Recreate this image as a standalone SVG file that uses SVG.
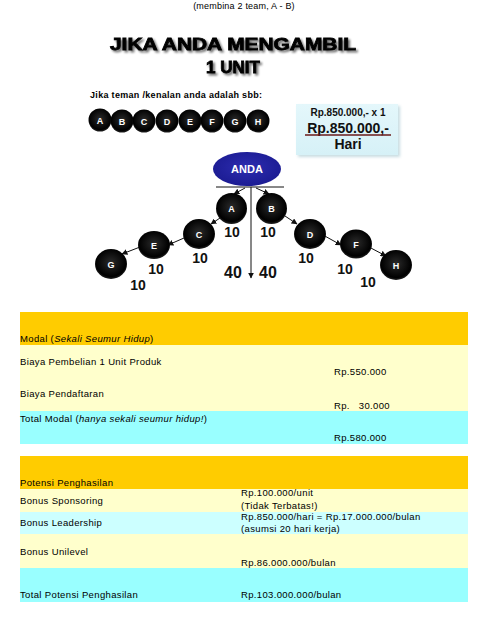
<svg xmlns="http://www.w3.org/2000/svg" width="489" height="618" viewBox="0 0 489 618">
<defs>
<style>
.t{font-family:"Liberation Sans",Arial,sans-serif;font-size:9.5px;fill:#000;letter-spacing:0.35px}
.it{font-style:italic}
.title{font-family:"Liberation Sans",Arial,sans-serif;font-weight:bold;font-size:17px;fill:#000;stroke:#000;stroke-width:0.8px;text-anchor:middle}
.lbl{font-family:"Liberation Sans",Arial,sans-serif;font-weight:bold;fill:#fff;text-anchor:middle}
.num{font-family:"Liberation Sans",Arial,sans-serif;font-weight:bold;font-size:14px;fill:#111;text-anchor:middle}
.big{font-family:"Liberation Sans",Arial,sans-serif;font-weight:bold;fill:#111;text-anchor:middle}
.con{stroke:#111;stroke-width:1;fill:none}
</style>
<radialGradient id="ball" cx="0.5" cy="0.45" r="0.55">
<stop offset="0" stop-color="#2a2a2a"/>
<stop offset="0.85" stop-color="#000"/>
<stop offset="1" stop-color="#222"/>
</radialGradient>
<radialGradient id="blue" cx="0.5" cy="0.45" r="0.6">
<stop offset="0" stop-color="#2d2db0"/>
<stop offset="1" stop-color="#1a1a90"/>
</radialGradient>
<linearGradient id="boxg" x1="0" y1="0" x2="0" y2="1">
<stop offset="0" stop-color="#e4f7fb"/>
<stop offset="1" stop-color="#d6f1f7"/>
</linearGradient>
<filter id="shadow" x="-10%" y="-40%" width="125%" height="190%">
<feGaussianBlur in="SourceAlpha" stdDeviation="1.2" result="b"/>
<feOffset in="b" dx="2" dy="2" result="o"/>
<feComponentTransfer in="o" result="s"><feFuncA type="linear" slope="0.55"/></feComponentTransfer>
<feMerge><feMergeNode in="s"/><feMergeNode in="SourceGraphic"/></feMerge>
</filter>
<filter id="soft" x="-10%" y="-10%" width="130%" height="130%">
<feGaussianBlur stdDeviation="1.5"/>
</filter>
<marker id="ah" viewBox="0 0 10 10" refX="9" refY="5" markerWidth="6" markerHeight="6" orient="auto" markerUnits="userSpaceOnUse">
<path d="M0,0 L10,5 L0,10 z" fill="#111"/>
</marker>
</defs>
<rect width="489" height="618" fill="#fff"/>

<text class="t" x="244" y="9" text-anchor="middle" style="font-size:9px;letter-spacing:0.2px">(membina 2 team, A - B)</text>

<g id="title" filter="url(#shadow)">
<text class="title" x="233" y="50" textLength="246" lengthAdjust="spacingAndGlyphs">JIKA ANDA MENGAMBIL</text>
<text class="title" x="233" y="73">1 UNIT</text>
</g>

<text x="90" y="98" style="font-family:'Liberation Sans',Arial,sans-serif;font-weight:bold;font-size:9px" textLength="172">Jika teman /kenalan anda adalah sbb:</text>

<g id="legend">
<g id="leg-A"><circle cx="100" cy="120" r="11.5" fill="url(#ball)"/><text class="lbl" x="100" y="123.5" style="font-size:9px">A</text></g>
<g id="leg-B"><circle cx="122" cy="121" r="11.5" fill="url(#ball)"/><text class="lbl" x="122" y="124.5" style="font-size:9px">B</text></g>
<g id="leg-C"><circle cx="144" cy="121" r="11.5" fill="url(#ball)"/><text class="lbl" x="144" y="124.5" style="font-size:9px">C</text></g>
<g id="leg-D"><circle cx="167" cy="121" r="11.5" fill="url(#ball)"/><text class="lbl" x="167" y="124.5" style="font-size:9px">D</text></g>
<g id="leg-E"><circle cx="190" cy="121" r="11.5" fill="url(#ball)"/><text class="lbl" x="190" y="124.5" style="font-size:9px">E</text></g>
<g id="leg-F"><circle cx="212" cy="121" r="11.5" fill="url(#ball)"/><text class="lbl" x="212" y="124.5" style="font-size:9px">F</text></g>
<g id="leg-G"><circle cx="235" cy="121" r="11.5" fill="url(#ball)"/><text class="lbl" x="235" y="124.5" style="font-size:9px">G</text></g>
<g id="leg-H"><circle cx="258" cy="121" r="11.5" fill="url(#ball)"/><text class="lbl" x="258" y="124.5" style="font-size:9px">H</text></g>
</g>

<g id="pricebox">
<rect x="298" y="106" width="102" height="51" fill="#c8dde2" filter="url(#soft)"/>
<rect x="296" y="104" width="102" height="51" fill="url(#boxg)"/>
<text class="big" x="348" y="116" style="font-size:10px">Rp.850.000,- x 1</text>
<text class="big" x="348" y="133" style="font-size:14px">Rp.850.000,-</text>
<line x1="305" y1="135" x2="391" y2="135" stroke="#6a1a1a" stroke-width="1.5"/>
<text class="big" x="348" y="149" style="font-size:14px">Hari</text>
</g>

<g id="connectors">
<line class="con" x1="216" y1="187" x2="284" y2="187"/>
<line class="con" x1="251" y1="187" x2="251" y2="278" marker-end="url(#ah)"/>
<line class="con" x1="245" y1="188" x2="234" y2="194" marker-end="url(#ah)"/>
<line class="con" x1="256" y1="188" x2="269" y2="194" marker-end="url(#ah)"/>
<line class="con" x1="220" y1="218" x2="211" y2="224" marker-end="url(#ah)"/>
<line class="con" x1="184" y1="238" x2="168" y2="245" marker-end="url(#ah)"/>
<line class="con" x1="140" y1="247" x2="122" y2="254" marker-end="url(#ah)"/>
<line class="con" x1="285" y1="216" x2="297" y2="224" marker-end="url(#ah)"/>
<line class="con" x1="323" y1="235" x2="341" y2="245" marker-end="url(#ah)"/>
<line class="con" x1="369" y1="247" x2="386" y2="256" marker-end="url(#ah)"/>
</g>

<g id="node-ANDA"><ellipse cx="247" cy="169" rx="34" ry="17" fill="url(#blue)"/><text class="lbl" x="247" y="173" style="font-size:11px">ANDA</text></g>
<g id="node-A"><ellipse cx="231.5" cy="208.5" rx="15.5" ry="15.5" fill="url(#ball)"/><text class="lbl" x="231.5" y="212" style="font-size:9px">A</text></g>
<g id="node-B"><ellipse cx="271.5" cy="208.5" rx="15.5" ry="15.5" fill="url(#ball)"/><text class="lbl" x="271.5" y="212" style="font-size:9px">B</text></g>
<g id="node-C"><ellipse cx="199" cy="234" rx="16" ry="15" fill="url(#ball)"/><text class="lbl" x="199" y="237.5" style="font-size:9px">C</text></g>
<g id="node-D"><ellipse cx="310" cy="234" rx="16" ry="15" fill="url(#ball)"/><text class="lbl" x="310" y="237.5" style="font-size:9px">D</text></g>
<g id="node-E"><ellipse cx="154" cy="245" rx="16" ry="14" fill="url(#ball)"/><text class="lbl" x="154" y="248.5" style="font-size:9px">E</text></g>
<g id="node-F"><ellipse cx="356" cy="244" rx="16" ry="14.5" fill="url(#ball)"/><text class="lbl" x="356" y="247.5" style="font-size:9px">F</text></g>
<g id="node-G"><ellipse cx="111" cy="264" rx="16" ry="15" fill="url(#ball)"/><text class="lbl" x="111" y="267.5" style="font-size:9px">G</text></g>
<g id="node-H"><ellipse cx="396" cy="265" rx="16" ry="15" fill="url(#ball)"/><text class="lbl" x="396" y="268.5" style="font-size:9px">H</text></g>

<g id="counts">
<text class="num" x="232" y="237">10</text>
<text class="num" x="268" y="237">10</text>
<text class="num" x="200" y="263">10</text>
<text class="num" x="306" y="263">10</text>
<text class="num" x="156" y="274">10</text>
<text class="num" x="345" y="274">10</text>
<text class="num" x="138" y="290">10</text>
<text class="num" x="368" y="287">10</text>
<text class="num" x="233" y="278" style="font-size:16px">40</text>
<text class="num" x="268" y="278" style="font-size:16px">40</text>
</g>

<g id="table-modal">
<rect x="20" y="312" width="448" height="33" fill="#FFCC00"/>
<rect x="20" y="345" width="448" height="66" fill="#FFFFCC"/>
<rect x="20" y="411" width="448" height="33" fill="#99FFFF"/>
<text class="t" x="20" y="342">Modal (<tspan class="it">Sekali Seumur Hidup</tspan>)</text>
<text class="t" x="20" y="365">Biaya Pembelian 1 Unit Produk</text>
<text class="t" x="334" y="375">Rp.550.000</text>
<text class="t" x="20" y="397">Biaya Pendaftaran</text>
<text class="t" x="334" y="409" xml:space="preserve">Rp.   30.000</text>
<text class="t" x="20" y="422">Total Modal (<tspan class="it">hanya sekali seumur hidup!</tspan>)</text>
<text class="t" x="334" y="441">Rp.580.000</text>
</g>

<g id="table-potensi">
<rect x="20" y="456" width="448" height="33" fill="#FFCC00"/>
<rect x="20" y="489" width="448" height="23" fill="#FFFFCC"/>
<rect x="20" y="512" width="448" height="22" fill="#CCFFFF"/>
<rect x="20" y="534" width="448" height="34" fill="#FFFFCC"/>
<rect x="20" y="568" width="448" height="34" fill="#99FFFF"/>
<text class="t" x="20" y="486">Potensi Penghasilan</text>
<text class="t" x="20" y="504">Bonus Sponsoring</text>
<text class="t" x="241" y="496">Rp.100.000/unit</text>
<text class="t" x="241" y="509">(Tidak Terbatas!)</text>
<text class="t" x="20" y="526">Bonus Leadership</text>
<text class="t" x="241" y="520">Rp.850.000/hari = Rp.17.000.000/bulan</text>
<text class="t" x="241" y="532">(asumsi 20 hari kerja)</text>
<text class="t" x="20" y="555">Bonus Unilevel</text>
<text class="t" x="241" y="566">Rp.86.000.000/bulan</text>
<text class="t" x="20" y="598">Total Potensi Penghasilan</text>
<text class="t" x="241" y="598">Rp.103.000.000/bulan</text>
</g>
</svg>
